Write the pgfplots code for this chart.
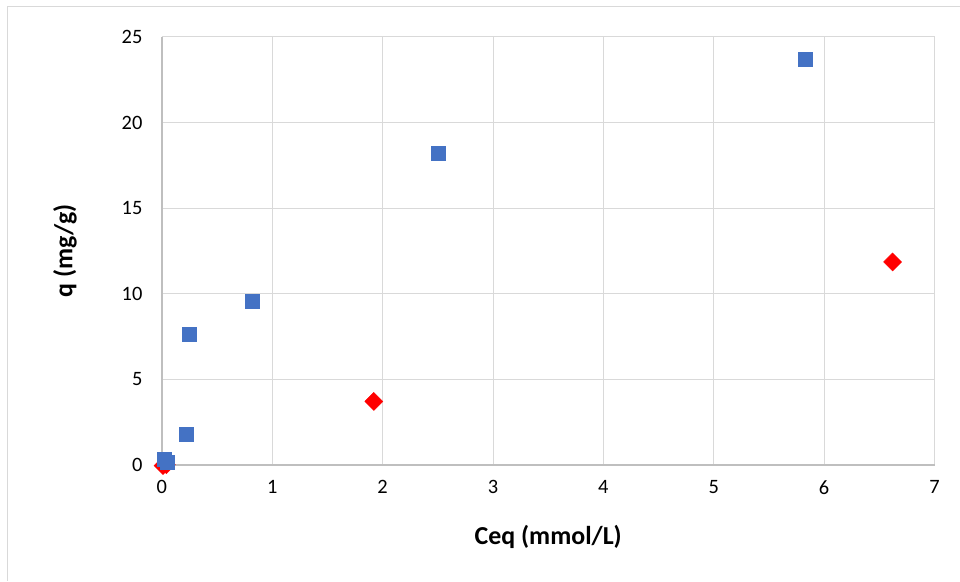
\documentclass[border=0pt]{standalone}
\usepackage{fontspec}
\setmainfont{Carlito}
\usepackage{pgfplots}
\pgfplotsset{compat=1.18}

\definecolor{serA}{HTML}{4472C4}
\definecolor{serB}{HTML}{FF0000}
\definecolor{gridc}{HTML}{D9D9D9}
\definecolor{axisc}{HTML}{BFBFBF}

\begin{document}
\begin{tikzpicture}[x=1bp,y=1bp]
\path (0,0) rectangle (960,581);
% outer chart frame
\draw[gridc, line width=1bp] (8,0) -- (8,574) -- (960,574);
\begin{axis}[
    at={(162bp,116bp)}, anchor=south west,
    scale only axis,
    width=773bp, height=428bp,
    xmin=0, xmax=7, ymin=0, ymax=25,
    xtick={0,1,...,7}, ytick={0,5,...,25},
    grid=major,
    major grid style={gridc, line width=1bp},
    axis line style={draw=none},
    tick style={draw=none},
    tick label style={font=\fontsize{20.5}{24}\selectfont},
    /pgf/number format/assume math mode=true,
    xticklabel style={yshift=-12bp},
    yticklabel style={xshift=-16bp},
    xlabel={\textbf{Ceq (mmol/L)}},
    ylabel={\textbf{q (mg/g)}},
    xlabel style={font=\fontsize{26}{30}\selectfont, at={(rel axis cs:0.5,0)}, anchor=center, yshift=-72bp},
    ylabel style={font=\fontsize{26}{30}\selectfont, at={(rel axis cs:0,0.5)}, anchor=center, yshift=97bp},
    clip=false,
]
\draw[axisc, line width=1.5bp] (axis cs:0,0) -- (axis cs:7,0);
\draw[axisc, line width=1.5bp] (axis cs:0,0) -- (axis cs:0,25);
% red series underneath
\addplot[only marks, mark=square*, mark size=6.4bp, mark options={rotate=45}, color=serB] coordinates {
    (0.01,-0.05) (0.04,0.0) (1.92,3.7) (6.62,11.85)
};
\addplot[only marks, mark=square*, mark size=7bp, color=serA] coordinates {
    (0.02,0.3) (0.05,0.17) (0.22,1.8) (0.25,7.65) (0.82,9.55) (2.50,18.2) (5.83,23.7)
};
\end{axis}
\end{tikzpicture}
\end{document}
